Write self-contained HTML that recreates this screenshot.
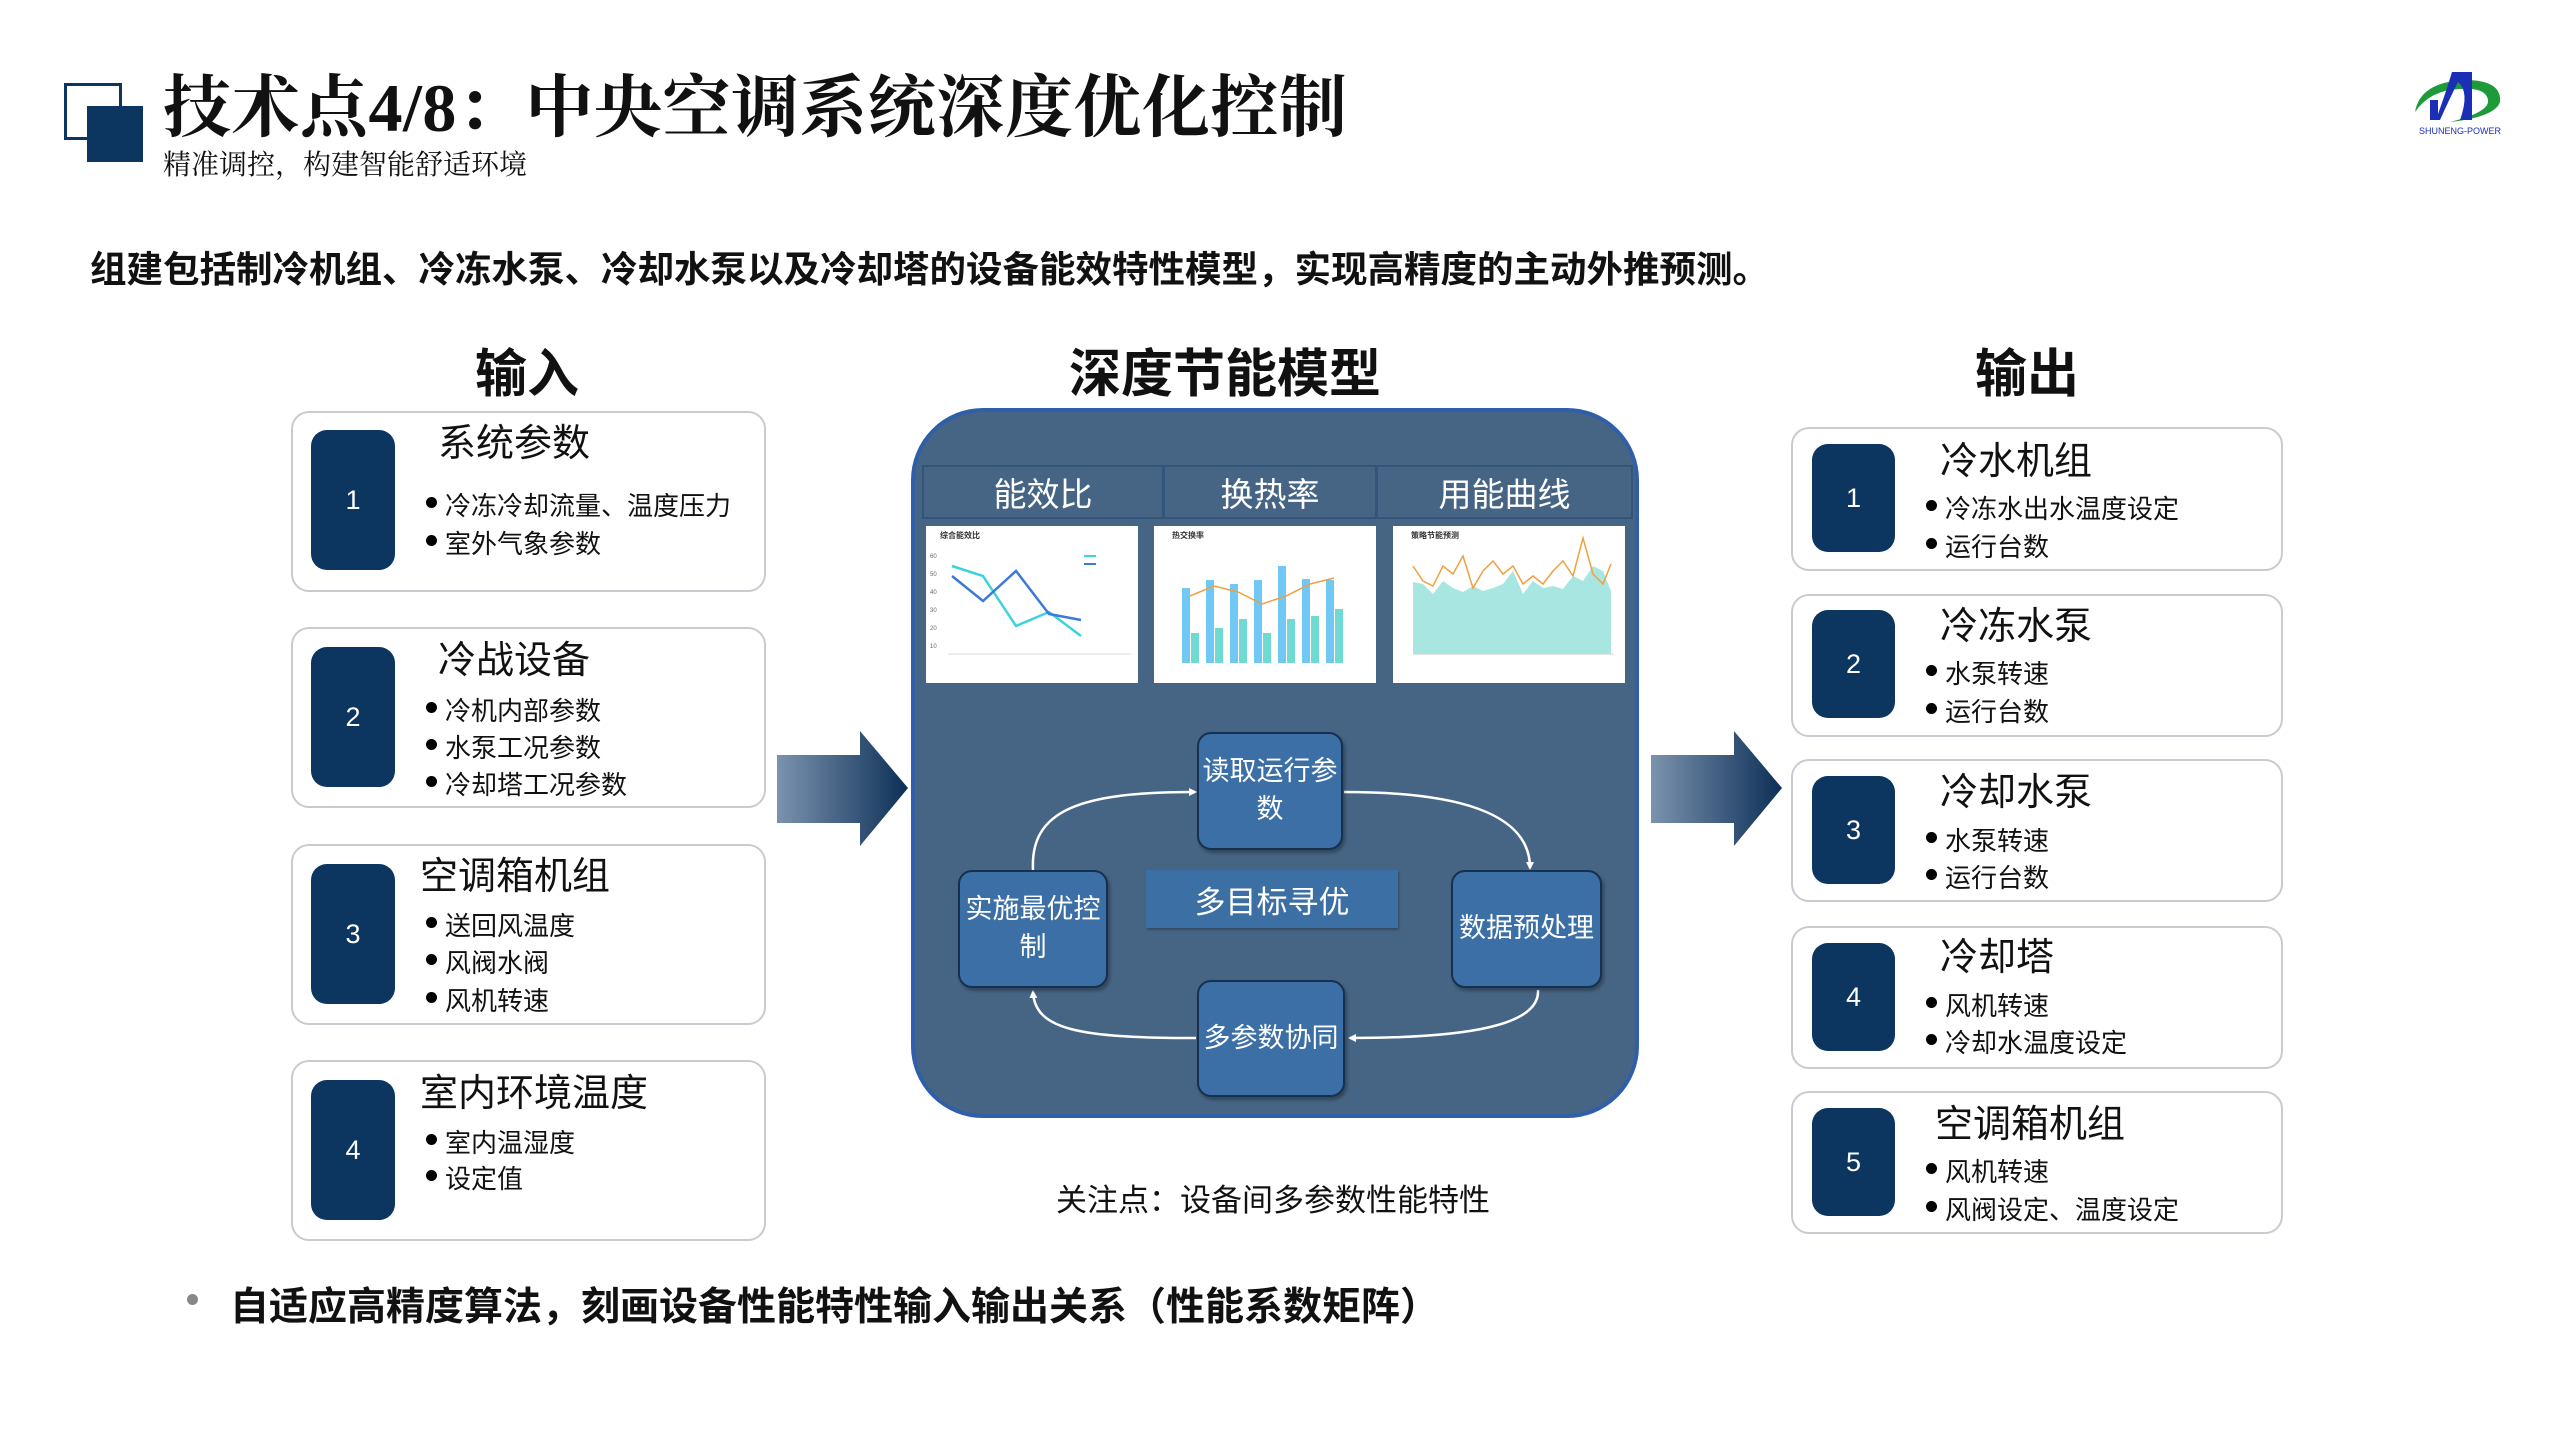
<!DOCTYPE html>
<html><head><meta charset="utf-8"><style>
*{margin:0;padding:0;box-sizing:border-box}
body{width:2560px;height:1440px;background:#fff;position:relative;overflow:hidden;font-family:"Liberation Sans","Noto Sans CJK SC",sans-serif;color:#111}
.a{position:absolute}
.card{position:absolute;border:2px solid #c9cbd0;border-radius:18px;background:#fff}
.num{position:absolute;background:#0c3560;border-radius:16px;color:#fff;font-size:27px;display:flex;align-items:center;justify-content:center}
.t{position:absolute;font-size:38px;line-height:1;white-space:nowrap}
.b{position:absolute;font-size:26px;line-height:1;white-space:nowrap}
.b:before{content:"";display:inline-block;width:11px;height:11px;border-radius:50%;background:#000;margin-right:8px;vertical-align:middle;position:relative;top:-6px}
.box{position:absolute;background:#3b6fa5;border:2px solid #17304d;border-radius:14px;color:#fff;font-size:27px;display:flex;align-items:center;justify-content:center;text-align:center;line-height:1.4;box-shadow:2px 3px 3px rgba(0,0,0,.3)}
.hc{position:absolute;top:465px;height:54px;border:2px solid #34557a;color:#fff;font-size:33px;display:flex;align-items:center;justify-content:center}
</style></head><body>
<div class="a" style="left:64px;top:83px;width:58px;height:57px;border:3px solid #0c3560;background:#fff"></div>
<div class="a" style="left:87px;top:106px;width:56px;height:56px;background:#0c3560"></div>
<div class="a" style="left:163px;top:54px;font-size:68px;font-weight:bold;font-family:'Liberation Serif','Noto Serif CJK SC',serif;white-space:nowrap;letter-spacing:0.5px">技术点4/8：中央空调系统深度优化控制</div>
<div class="a" style="left:163px;top:143px;font-size:28px;font-family:'Liberation Serif','Noto Serif CJK SC',serif;white-space:nowrap">精准调控，构建智能舒适环境</div>
<svg class="a" style="left:2410px;top:62px" width="100" height="74" viewBox="0 0 100 74">
<path d="M5 50 Q10 20 55 18 Q92 18 90 40 Q85 55 40 60 Q80 50 78 38 Q76 25 50 27 Q20 28 5 50Z" fill="#1f9a3a"/>
<path d="M42 10 L62 10 L62 58 L50 58 Q60 30 48 20 Q38 40 30 58 L20 58 L20 38 L28 38 L28 52 Q36 30 42 10Z" fill="#1a2fb5"/>
<text x="50" y="72" font-size="9" fill="#1a2fb5" text-anchor="middle" font-family="Liberation Sans">SHUNENG-POWER</text>
</svg>
<div class="a" style="left:90px;top:240px;font-size:36.5px;font-weight:bold;white-space:nowrap">组建包括制冷机组、冷冻水泵、冷却水泵以及冷却塔的设备能效特性模型，实现高精度的主动外推预测。</div>
<div class="a" style="left:475px;top:332px;font-size:52px;font-weight:bold">输入</div>
<div class="a" style="left:1069px;top:332px;font-size:52px;font-weight:bold;white-space:nowrap">深度节能模型</div>
<div class="a" style="left:1975px;top:332px;font-size:52px;font-weight:bold">输出</div>

<div class="card" style="left:291px;top:411px;width:475px;height:181px"></div>
<div class="num" style="left:311px;top:430px;width:84px;height:140px">1</div>
<div class="t" style="left:438px;top:425px">系统参数</div>
<div class="b" style="left:426px;top:493px">冷冻冷却流量、温度压力</div>
<div class="b" style="left:426px;top:531px">室外气象参数</div>

<div class="card" style="left:291px;top:627px;width:475px;height:181px"></div>
<div class="num" style="left:311px;top:647px;width:84px;height:140px">2</div>
<div class="t" style="left:438px;top:642px">冷战设备</div>
<div class="b" style="left:426px;top:698px">冷机内部参数</div>
<div class="b" style="left:426px;top:735px">水泵工况参数</div>
<div class="b" style="left:426px;top:772px">冷却塔工况参数</div>

<div class="card" style="left:291px;top:844px;width:475px;height:181px"></div>
<div class="num" style="left:311px;top:864px;width:84px;height:140px">3</div>
<div class="t" style="left:420px;top:858px">空调箱机组</div>
<div class="b" style="left:426px;top:913px">送回风温度</div>
<div class="b" style="left:426px;top:950px">风阀水阀</div>
<div class="b" style="left:426px;top:988px">风机转速</div>

<div class="card" style="left:291px;top:1060px;width:475px;height:181px"></div>
<div class="num" style="left:311px;top:1080px;width:84px;height:140px">4</div>
<div class="t" style="left:420px;top:1075px">室内环境温度</div>
<div class="b" style="left:426px;top:1130px">室内温湿度</div>
<div class="b" style="left:426px;top:1166px">设定值</div>

<div class="card" style="left:1791px;top:427px;width:492px;height:144px"></div>
<div class="num" style="left:1812px;top:444px;width:83px;height:108px">1</div>
<div class="t" style="left:1940px;top:443px">冷水机组</div>
<div class="b" style="left:1926px;top:496px">冷冻水出水温度设定</div>
<div class="b" style="left:1926px;top:534px">运行台数</div>

<div class="card" style="left:1791px;top:594px;width:492px;height:143px"></div>
<div class="num" style="left:1812px;top:610px;width:83px;height:108px">2</div>
<div class="t" style="left:1940px;top:608px">冷冻水泵</div>
<div class="b" style="left:1926px;top:661px">水泵转速</div>
<div class="b" style="left:1926px;top:699px">运行台数</div>

<div class="card" style="left:1791px;top:759px;width:492px;height:143px"></div>
<div class="num" style="left:1812px;top:776px;width:83px;height:108px">3</div>
<div class="t" style="left:1940px;top:774px">冷却水泵</div>
<div class="b" style="left:1926px;top:828px">水泵转速</div>
<div class="b" style="left:1926px;top:865px">运行台数</div>

<div class="card" style="left:1791px;top:926px;width:492px;height:143px"></div>
<div class="num" style="left:1812px;top:943px;width:83px;height:108px">4</div>
<div class="t" style="left:1940px;top:939px">冷却塔</div>
<div class="b" style="left:1926px;top:993px">风机转速</div>
<div class="b" style="left:1926px;top:1030px">冷却水温度设定</div>

<div class="card" style="left:1791px;top:1091px;width:492px;height:143px"></div>
<div class="num" style="left:1812px;top:1108px;width:83px;height:108px">5</div>
<div class="t" style="left:1935px;top:1106px">空调箱机组</div>
<div class="b" style="left:1926px;top:1159px">风机转速</div>
<div class="b" style="left:1926px;top:1197px">风阀设定、温度设定</div>

<svg class="a" style="left:0;top:0" width="2560" height="1440">
<defs><linearGradient id="g" x1="0" x2="1"><stop offset="0" stop-color="#7b93ae"/><stop offset="1" stop-color="#0d2f57"/></linearGradient></defs>
<path d="M777 755 H860 V731 L908 788 L860 846 V823 H777Z" fill="url(#g)"/>
<path d="M1651 755 H1734 V731 L1782 788 L1734 846 V823 H1651Z" fill="url(#g)"/>
</svg>

<div class="a" style="left:911px;top:408px;width:728px;height:710px;background:#466484;border:4px solid #2f5fa8;border-radius:72px"></div>
<div class="hc" style="left:922px;width:242px">能效比</div>
<div class="hc" style="left:1163px;width:214px">换热率</div>
<div class="hc" style="left:1376px;width:257px">用能曲线</div>

<svg class="a" style="left:926px;top:526px" width="212" height="157" viewBox="0 0 212 157">
<rect width="212" height="157" fill="#fff"/>
<text x="14" y="12" font-size="8" font-weight="bold" fill="#333">综合能效比</text>
<g stroke="#ddd" stroke-width="1"><line x1="22" y1="128" x2="205" y2="128"/></g>
<g font-size="6" fill="#666"><text x="4" y="32">60</text><text x="4" y="50">50</text><text x="4" y="68">40</text><text x="4" y="86">30</text><text x="4" y="104">20</text><text x="4" y="122">10</text></g>
<polyline points="26,40 57,50 90,100 123,86 155,110" fill="none" stroke="#3cd2e0" stroke-width="2.5"/>
<polyline points="26,50 57,75 90,45 123,88 155,94" fill="none" stroke="#3a7ad8" stroke-width="2.5"/>
<line x1="158" y1="30" x2="170" y2="30" stroke="#3cd2e0" stroke-width="2"/><line x1="158" y1="38" x2="170" y2="38" stroke="#3a7ad8" stroke-width="2"/>
</svg>
<svg class="a" style="left:1154px;top:526px" width="222" height="157" viewBox="0 0 222 157">
<rect width="222" height="157" fill="#fff"/>
<text x="18" y="12" font-size="8" font-weight="bold" fill="#333">热交换率</text>
<g fill="#72c8f4">
<rect x="28" y="62" width="8" height="75"/><rect x="52" y="54" width="8" height="83"/><rect x="76" y="58" width="8" height="79"/><rect x="100" y="54" width="8" height="83"/><rect x="124" y="40" width="8" height="97"/><rect x="148" y="53" width="8" height="84"/><rect x="172" y="54" width="8" height="83"/></g>
<g fill="#6fdad2">
<rect x="37" y="107" width="8" height="30"/><rect x="61" y="102" width="8" height="35"/><rect x="85" y="93" width="8" height="44"/><rect x="109" y="107" width="8" height="30"/><rect x="133" y="93" width="8" height="44"/><rect x="157" y="90" width="8" height="47"/><rect x="181" y="83" width="8" height="54"/></g>
<polyline points="36,70 60,60 84,66 108,78 132,70 156,58 180,52" fill="none" stroke="#f0a040" stroke-width="1.5"/>
</svg>
<svg class="a" style="left:1393px;top:526px" width="232" height="157" viewBox="0 0 232 157">
<rect width="232" height="157" fill="#fff"/>
<text x="18" y="12" font-size="8" font-weight="bold" fill="#333">策略节能预测</text>
<path d="M20 56 L30 58 L40 68 L50 55 L60 62 L70 66 L80 60 L90 65 L100 62 L110 58 L120 45 L130 68 L140 55 L150 62 L160 60 L170 63 L180 50 L190 55 L200 40 L210 45 L218 65 V128 H20Z" fill="#a8e6e2"/>
<polyline points="20,40 30,55 40,60 50,40 60,48 70,30 80,62 90,45 100,35 110,48 120,40 130,58 140,50 150,58 160,45 170,35 180,50 190,12 200,48 210,58 218,38" fill="none" stroke="#f0a040" stroke-width="1.5"/>
<line x1="20" y1="128" x2="220" y2="128" stroke="#ccc"/>
</svg>

<svg class="a" style="left:0;top:0" width="2560" height="1440">
<defs><marker id="m" markerWidth="8" markerHeight="8" refX="6" refY="4" orient="auto" markerUnits="userSpaceOnUse"><path d="M0 0 L8 4 L0 8Z" fill="#fff"/></marker></defs>
<g fill="none" stroke="#fff" stroke-width="2.5" marker-end="url(#m)">
<path d="M1033 870 C1030 810 1080 792 1195 792"/>
<path d="M1344 792 C1450 792 1530 810 1530 868"/>
<path d="M1538 990 C1540 1025 1470 1038 1350 1038"/>
<path d="M1196 1038 C1080 1038 1035 1030 1033 992"/>
</g></svg>
<div class="box" style="left:1197px;top:732px;width:146px;height:118px">读取运行参<br>数</div>
<div class="box" style="left:958px;top:870px;width:150px;height:118px">实施最优控<br>制</div>
<div class="box" style="left:1451px;top:870px;width:151px;height:118px">数据预处理</div>
<div class="box" style="left:1197px;top:980px;width:148px;height:117px">多参数协同</div>
<div class="a" style="left:1146px;top:870px;width:252px;height:58px;background:#3c6fa4;color:#fff;font-size:31px;display:flex;align-items:center;justify-content:center;box-shadow:1px 2px 2px rgba(0,0,0,.25)">多目标寻优</div>

<div class="a" style="left:1056px;top:1175px;font-size:31px;white-space:nowrap">关注点：设备间多参数性能特性</div>
<div class="a" style="left:187px;top:1294px;width:11px;height:11px;border-radius:50%;background:#888"></div>
<div class="a" style="left:230px;top:1276px;font-size:39px;font-weight:bold;white-space:nowrap">自适应高精度算法，刻画设备性能特性输入输出关系（性能系数矩阵）</div>
</body></html>
